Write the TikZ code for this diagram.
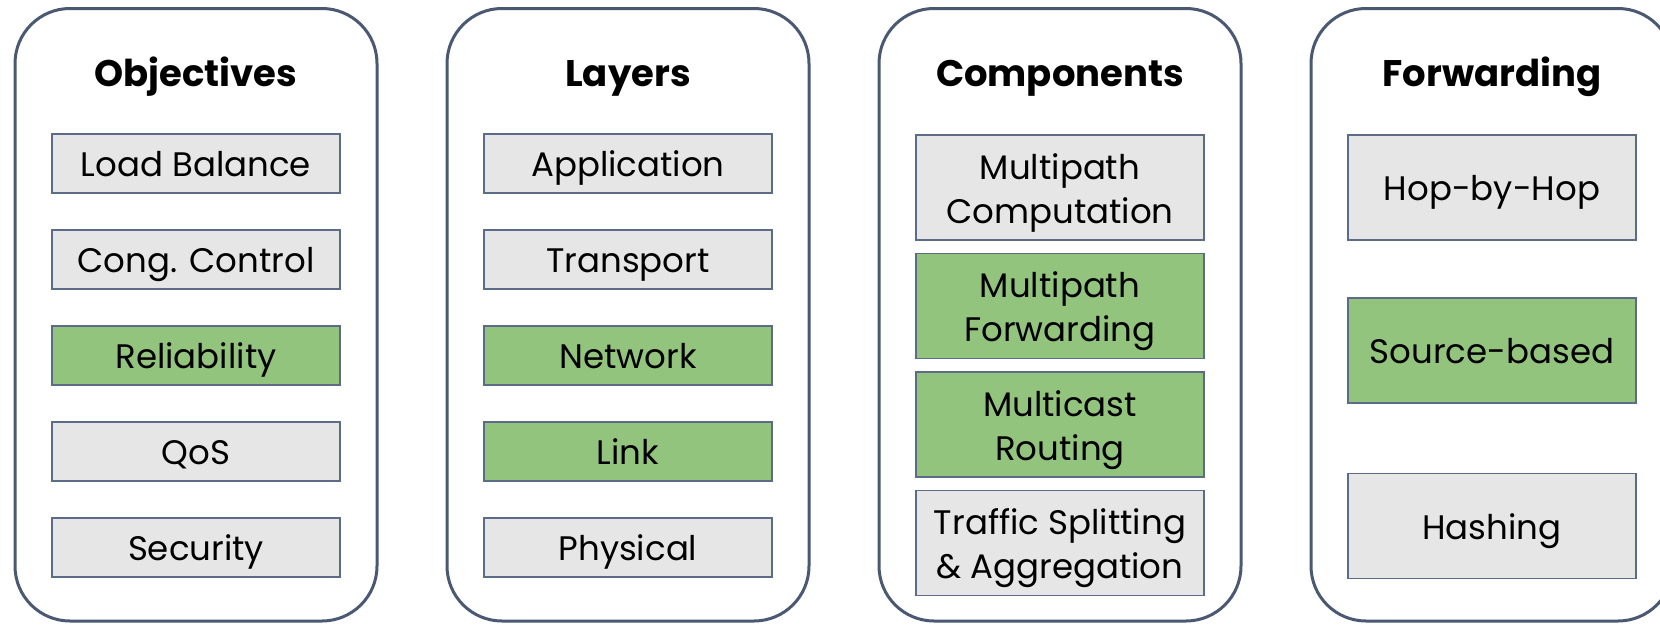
\documentclass[tikz,border=0pt]{standalone}
\usepackage{fontspec}
\setmainfont{Poppins}
\definecolor{panelline}{HTML}{4A5872}
\definecolor{boxline}{HTML}{5C6B87}
\definecolor{boxgray}{HTML}{E6E6E6}
\definecolor{boxgreen}{HTML}{93C47D}
\tikzset{
  panel/.style={draw=panelline, line width=3pt, rounded corners=55pt, fill=white},
  title/.style={anchor=base, font=\fontsize{37}{44}\selectfont\bfseries},
  item/.style={draw=boxline, line width=1.5pt, fill=boxgray, minimum width=288pt, inner sep=0pt,
     align=center, font=\fontsize{34}{44}\selectfont},
  short/.style={minimum height=59pt, text height=26.5pt, text depth=0pt},
  tall/.style={minimum height=105pt, text height=71pt, text depth=0pt},
  tallone/.style={minimum height=105pt, text height=26.5pt, text depth=0pt},
  hi/.style={fill=boxgreen},
}
\begin{document}
\begin{tikzpicture}[x=1pt,y=-1pt]
\useasboundingbox (0,0) rectangle (1660,624);
\clip (0,0) rectangle (1660,624);
% panels
\foreach \c in {196,628,1060,1492}{
  \draw[panel] (\c-181,8.5) rectangle (\c+181,621);
}
% titles
\node[title] (t1) at (196,86) {Objectives};
\node[title] (t2) at (628,86) {Layers};
\node[title] (t3) at (1060,86) {Components};
\node[title] (t4) at (1492,86) {Forwarding};
% objectives
\node[item,short] (o1) at (196,163.5) {Load Balance};
\node[item,short] (o2) at (196,259.5) {Cong. Control};
\node[item,short,hi] (o3) at (196,355.5) {Reliability};
\node[item,short] (o4) at (196,451.5) {QoS};
\node[item,short] (o5) at (196,547.5) {Security};
% layers
\node[item,short] (l1) at (628,163.5) {Application};
\node[item,short] (l2) at (628,259.5) {Transport};
\node[item,short,hi] (l3) at (628,355.5) {Network};
\node[item,short,hi] (l4) at (628,451.5) {Link};
\node[item,short] (l5) at (628,547.5) {Physical};
% components
\node[item,tall] (c1) at (1060,187.5) {Multipath\\Computation};
\node[item,tall,hi] (c2) at (1060,306) {Multipath\\Forwarding};
\node[item,tall,hi] (c3) at (1060,424.5) {Multicast\\Routing};
\node[item,tall] (c4) at (1060,543) {Traffic Splitting\\\& Aggregation};
% forwarding
\node[item,tallone] (f1) at (1492,187.5) {Hop-by-Hop};
\node[item,tallone,hi] (f2) at (1492,350.5) {Source-based};
\node[item,tallone] (f3) at (1492,526) {Hashing};
\end{tikzpicture}
\end{document}
